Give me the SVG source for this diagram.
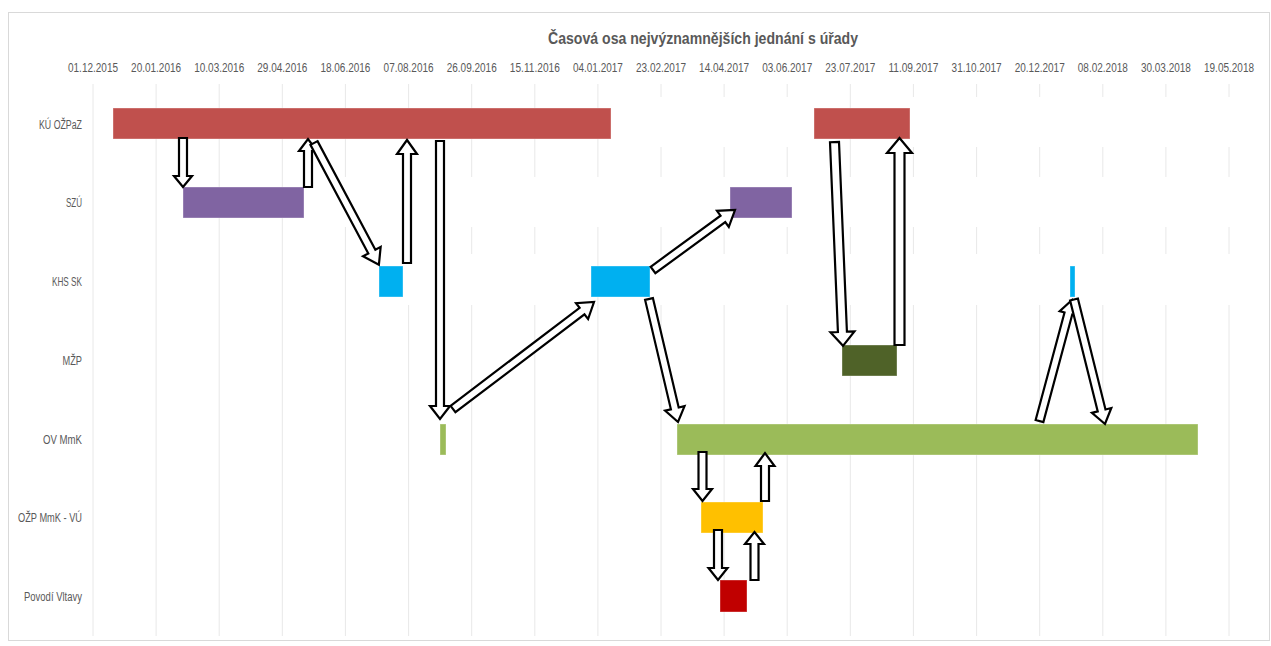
<svg xmlns="http://www.w3.org/2000/svg" width="1271" height="646" viewBox="0 0 1271 646">
  <style>
    .frame { fill: #FFFFFF; stroke: #D9D9D9; stroke-width: 1; }
    .grid line { stroke: #E8E8E8; stroke-width: 1; }
    .mask { fill: #FFFFFF; }
    .title { font-family: "Liberation Sans", Arial, sans-serif; font-size: 16.5px; font-weight: bold; fill: #595959; }
    .tick { font-family: "Liberation Sans", Arial, sans-serif; font-size: 12px; fill: #595959; text-anchor: middle; }
    .cat { font-family: "Liberation Sans", Arial, sans-serif; font-size: 12px; fill: #595959; text-anchor: end; }
    .bar { stroke: #FFFFFF; stroke-opacity: 0.35; stroke-width: 1; }
    .arrow { fill: #FFFFFF; stroke: #000000; stroke-width: 2.2; stroke-linejoin: miter; }
  </style>

  <!-- chart area -->
  <rect class="frame" x="8.5" y="12.5" width="1261" height="628"/>

  <text class="title" x="703" y="44" text-anchor="middle" textLength="310" lengthAdjust="spacingAndGlyphs">Časová osa nejvýznamnějších jednání s úřady</text>

  <!-- date axis -->
  <g id="axis-dates">
    <text class="tick" x="93" y="72" textLength="50" lengthAdjust="spacingAndGlyphs">01.12.2015</text>
    <text class="tick" x="156.1" y="72" textLength="50" lengthAdjust="spacingAndGlyphs">20.01.2016</text>
    <text class="tick" x="219.2" y="72" textLength="50" lengthAdjust="spacingAndGlyphs">10.03.2016</text>
    <text class="tick" x="282.3" y="72" textLength="50" lengthAdjust="spacingAndGlyphs">29.04.2016</text>
    <text class="tick" x="345.4" y="72" textLength="50" lengthAdjust="spacingAndGlyphs">18.06.2016</text>
    <text class="tick" x="408.6" y="72" textLength="50" lengthAdjust="spacingAndGlyphs">07.08.2016</text>
    <text class="tick" x="471.7" y="72" textLength="50" lengthAdjust="spacingAndGlyphs">26.09.2016</text>
    <text class="tick" x="534.8" y="72" textLength="50" lengthAdjust="spacingAndGlyphs">15.11.2016</text>
    <text class="tick" x="597.9" y="72" textLength="50" lengthAdjust="spacingAndGlyphs">04.01.2017</text>
    <text class="tick" x="661" y="72" textLength="50" lengthAdjust="spacingAndGlyphs">23.02.2017</text>
    <text class="tick" x="724.1" y="72" textLength="50" lengthAdjust="spacingAndGlyphs">14.04.2017</text>
    <text class="tick" x="787.2" y="72" textLength="50" lengthAdjust="spacingAndGlyphs">03.06.2017</text>
    <text class="tick" x="850.3" y="72" textLength="50" lengthAdjust="spacingAndGlyphs">23.07.2017</text>
    <text class="tick" x="913.4" y="72" textLength="50" lengthAdjust="spacingAndGlyphs">11.09.2017</text>
    <text class="tick" x="976.6" y="72" textLength="50" lengthAdjust="spacingAndGlyphs">31.10.2017</text>
    <text class="tick" x="1039.7" y="72" textLength="50" lengthAdjust="spacingAndGlyphs">20.12.2017</text>
    <text class="tick" x="1102.8" y="72" textLength="50" lengthAdjust="spacingAndGlyphs">08.02.2018</text>
    <text class="tick" x="1165.9" y="72" textLength="50" lengthAdjust="spacingAndGlyphs">30.03.2018</text>
    <text class="tick" x="1229" y="72" textLength="50" lengthAdjust="spacingAndGlyphs">19.05.2018</text>
  </g>

  <!-- vertical gridlines -->
  <g class="grid">
    <line x1="93" y1="84" x2="93" y2="636"/>
    <line x1="156.1" y1="84" x2="156.1" y2="636"/>
    <line x1="219.2" y1="84" x2="219.2" y2="636"/>
    <line x1="282.3" y1="84" x2="282.3" y2="636"/>
    <line x1="345.4" y1="84" x2="345.4" y2="636"/>
    <line x1="408.6" y1="84" x2="408.6" y2="636"/>
    <line x1="471.7" y1="84" x2="471.7" y2="636"/>
    <line x1="534.8" y1="84" x2="534.8" y2="636"/>
    <line x1="597.9" y1="84" x2="597.9" y2="636"/>
    <line x1="661" y1="84" x2="661" y2="636"/>
    <line x1="724.1" y1="84" x2="724.1" y2="636"/>
    <line x1="787.2" y1="84" x2="787.2" y2="636"/>
    <line x1="850.3" y1="84" x2="850.3" y2="636"/>
    <line x1="913.4" y1="84" x2="913.4" y2="636"/>
    <line x1="976.6" y1="84" x2="976.6" y2="636"/>
    <line x1="1039.7" y1="84" x2="1039.7" y2="636"/>
    <line x1="1102.8" y1="84" x2="1102.8" y2="636"/>
    <line x1="1165.9" y1="84" x2="1165.9" y2="636"/>
    <line x1="1229" y1="84" x2="1229" y2="636"/>
  </g>

  <!-- white spacer segments of the stacked bars -->
  <g id="spacers">
    <rect class="mask" x="611" y="97" width="203" height="50"/>
    <rect class="mask" x="910" y="97" width="335" height="50"/>
    <rect class="mask" x="304" y="177" width="941" height="50"/>
    <rect class="mask" x="403" y="254" width="188" height="51"/>
    <rect class="mask" x="650" y="254" width="420" height="51"/>
    <rect class="mask" x="1075" y="254" width="170" height="51"/>
  </g>

  <!-- category labels -->
  <g id="axis-categories">
    <text class="cat" x="82" y="128.5" textLength="43" lengthAdjust="spacingAndGlyphs">KÚ OŽPaZ</text>
    <text class="cat" x="82" y="207" textLength="16" lengthAdjust="spacingAndGlyphs">SZÚ</text>
    <text class="cat" x="82" y="286" textLength="30" lengthAdjust="spacingAndGlyphs">KHS SK</text>
    <text class="cat" x="82" y="364.5" textLength="19.5" lengthAdjust="spacingAndGlyphs">MŽP</text>
    <text class="cat" x="82" y="443.5" textLength="39" lengthAdjust="spacingAndGlyphs">OV MmK</text>
    <text class="cat" x="82" y="522" textLength="64" lengthAdjust="spacingAndGlyphs">OŽP MmK - VÚ</text>
    <text class="cat" x="82" y="601" textLength="58" lengthAdjust="spacingAndGlyphs">Povodí Vltavy</text>
  </g>

  <!-- KÚ OŽPaZ -->
  <g id="ku-1"><rect class="bar" x="113" y="108" width="498" height="31" fill="#C0504D"/></g>
  <g id="ku-2"><rect class="bar" x="814" y="108" width="96" height="31" fill="#C0504D"/></g>
  <!-- SZÚ -->
  <g id="szu-1"><rect class="bar" x="183" y="187" width="121" height="31" fill="#8064A2"/></g>
  <g id="szu-2"><rect class="bar" x="730" y="187" width="62" height="31" fill="#8064A2"/></g>
  <!-- KHS SK -->
  <g id="khs-1"><rect class="bar" x="379" y="266" width="24" height="31" fill="#00B0F0"/></g>
  <g id="khs-2"><rect class="bar" x="591" y="266" width="59" height="31" fill="#00B0F0"/></g>
  <g id="khs-3"><rect class="bar" x="1070" y="266" width="5" height="31" fill="#00B0F0"/></g>
  <!-- MŽP -->
  <g id="mzp-1"><rect class="bar" x="842" y="345" width="55" height="31" fill="#4F6228"/></g>
  <!-- OV MmK -->
  <g id="ov-1"><rect class="bar" x="440" y="424" width="6" height="31" fill="#9BBB59"/></g>
  <g id="ov-2"><rect class="bar" x="677" y="424" width="521" height="31" fill="#9BBB59"/></g>
  <!-- OŽP MmK - VÚ -->
  <g id="ozp-1"><rect class="bar" x="701" y="502" width="62" height="31" fill="#FFC000"/></g>
  <!-- Povodí Vltavy -->
  <g id="pv-1"><rect class="bar" x="720" y="580" width="27" height="32" fill="#C00000"/></g>

  <!-- block arrows between offices -->
  <g id="connectors">
    <path class="arrow" transform="translate(183,138) rotate(90)" d="M0,-4H38V-9L49,0L38,9V4H0Z"/>
    <path class="arrow" transform="translate(308,187) rotate(-90)" d="M0,-4H36V-9L48,0L36,9V4H0Z"/>
    <path class="arrow" transform="translate(314,143) rotate(61.95)" d="M0,-4H123V-10L138,0L123,10V4H0Z"/>
    <path class="arrow" transform="translate(407,263) rotate(-90)" d="M0,-4H109V-10L123,0L109,10V4H0Z"/>
    <path class="arrow" transform="translate(440,141) rotate(90)" d="M0,-4H265V-10L278,0L265,10V4H0Z"/>
    <path class="arrow" transform="translate(453,409) rotate(-37.19)" d="M0,-4H162V-10L177,0L162,10V4H0Z"/>
    <path class="arrow" transform="translate(653,270) rotate(-36.19)" d="M0,-4H86.6V-10L101.6,0L86.6,10V4H0Z"/>
    <path class="arrow" transform="translate(649,299) rotate(76.73)" d="M0,-4H112.4V-10L126.4,0L112.4,10V4H0Z"/>
    <path class="arrow" transform="translate(702.5,452) rotate(90)" d="M0,-4H37V-9.5L49,0L37,9.5V4H0Z"/>
    <path class="arrow" transform="translate(765,501) rotate(-90)" d="M0,-4H35V-9.5L48,0L35,9.5V4H0Z"/>
    <path class="arrow" transform="translate(718,530) rotate(90)" d="M0,-4H38V-9.5L50,0L38,9.5V4H0Z"/>
    <path class="arrow" transform="translate(754.5,580) rotate(-90)" d="M0,-4H36V-9.5L48,0L36,9.5V4H0Z"/>
    <path class="arrow" transform="translate(834.5,142) rotate(87.61)" d="M0,-4.5H190V-12L204,0L190,12V4.5H0Z"/>
    <path class="arrow" transform="translate(899.5,345) rotate(-90)" d="M0,-5H192V-12.5L207,0L192,12.5V5H0Z"/>
    <path class="arrow" transform="translate(1039.5,421) rotate(-74.96)" d="M0,-4H111.3V-9L125.3,0L111.3,9V4H0Z"/>
    <path class="arrow" transform="translate(1074,299.5) rotate(76.02)" d="M0,-4H114.3V-10L128.3,0L114.3,10V4H0Z"/>
  </g>
</svg>
